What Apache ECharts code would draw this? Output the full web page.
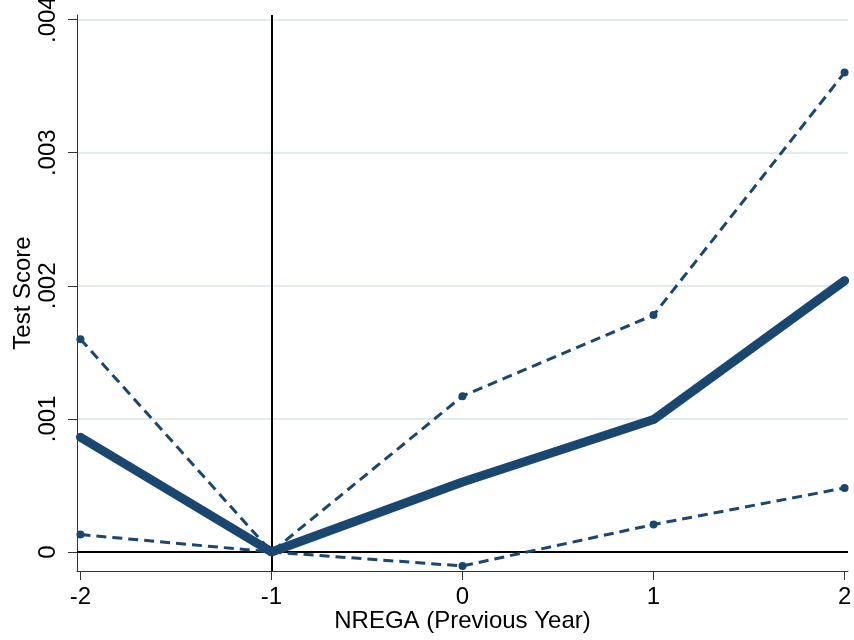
<!DOCTYPE html>
<html>
<head>
<meta charset="utf-8">
<script src="https://cdn.jsdelivr.net/npm/echarts@6/dist/echarts.min.js"></script>
<style>html,body{margin:0;padding:0;background:#fff}#c{width:854px;height:640px}</style>
</head>
<body>
<div id="c"></div>
<script>
const xValues = [-2, -1, 0, 1, 2];
const estimate = [0.000862, 0, 0.000526, 0.000995, 0.002038];
const upperCI = [0.001599, 0, 0.001171, 0.00178, 0.003602];
const lowerCI = [0.000131, 0, -0.000105, 0.000206, 0.000481];
const yTicks = [0, 0.001, 0.002, 0.003, 0.004];
const yTickLabels = ['0', '.001', '.002', '.003', '.004'];
const xTicks = [-2, -1, 0, 1, 2];
const xTickLabels = ['-2', '-1', '0', '1', '2'];

const navy = '#1a476f';
const font = '"Liberation Sans", Arial, sans-serif';
const pts = arr => xValues.map((x, i) => [x, arr[i]]);

const refItems = [
  {yAxis: 0, lineStyle: {color: '#000', width: 2, type: 'solid'}},
  {xAxis: -1, lineStyle: {color: '#000', width: 2, type: 'solid'}}
];

const chart = echarts.init(document.getElementById('c'), null, {renderer: 'canvas'});
chart.setOption({
  animation: false,
  backgroundColor: '#fff',
  grid: {left: 77, right: 6, top: 15, bottom: 69, containLabel: false, outerBoundsMode: 'none'},
  xAxis: {
    type: 'value', min: -2.018, max: 2.018,
    name: 'NREGA (Previous Year)', nameLocation: 'middle', nameGap: 38, nameMoveOverlap: false,
    nameTextStyle: {fontFamily: font, fontSize: 24, color: '#000'},
    axisLine: {show: true, onZero: false, lineStyle: {color: '#333', width: 1}},
    axisTick: {show: true, length: 9, customValues: xTicks, lineStyle: {color: '#333'}},
    axisLabel: {customValues: xTicks, formatter: v => xTickLabels[xTicks.indexOf(Math.round(v))] ?? '', fontFamily: font, fontSize: 24, color: '#000', margin: 14},
    splitLine: {show: false}
  },
  yAxis: {
    type: 'value', min: -0.000143, max: 0.004035,
    name: 'Test Score', nameLocation: 'middle', nameGap: 42, nameRotate: 90, nameMoveOverlap: false,
    nameTextStyle: {fontFamily: font, fontSize: 24, color: '#000'},
    axisLine: {show: true, onZero: false, lineStyle: {color: '#333', width: 1}},
    axisTick: {show: true, length: 9, customValues: yTicks, lineStyle: {color: '#333'}},
    axisLabel: {customValues: yTicks, rotate: 90, formatter: v => { const i = yTicks.findIndex(t => Math.abs(t - v) < 1e-9); return i >= 0 ? yTickLabels[i] : ''; }, fontFamily: font, fontSize: 24, color: '#000', margin: 17},
    splitLine: {show: true, lineStyle: {color: '#e2ebee', width: 2}}
  },
  series: [
    {
      type: 'line', data: pts(upperCI), symbol: 'circle', symbolSize: 8, z: 3,
      lineStyle: {color: navy, width: 3, type: [10, 6]}, itemStyle: {color: navy},
      markLine: {
        silent: true, symbol: 'none', label: {show: false}, z: 1,
        data: refItems
      }
    },
    {
      type: 'line', data: pts(lowerCI), symbol: 'circle', symbolSize: 8, z: 3,
      lineStyle: {color: navy, width: 3, type: [10, 6]}, itemStyle: {color: navy}
    },
    {
      type: 'line', data: pts(estimate), symbol: 'circle', symbolSize: 8, z: 4,
      lineStyle: {color: navy, width: 9, cap: 'round', join: 'round'}, itemStyle: {color: navy}
    }
  ]
});
</script>
</body>
</html>
